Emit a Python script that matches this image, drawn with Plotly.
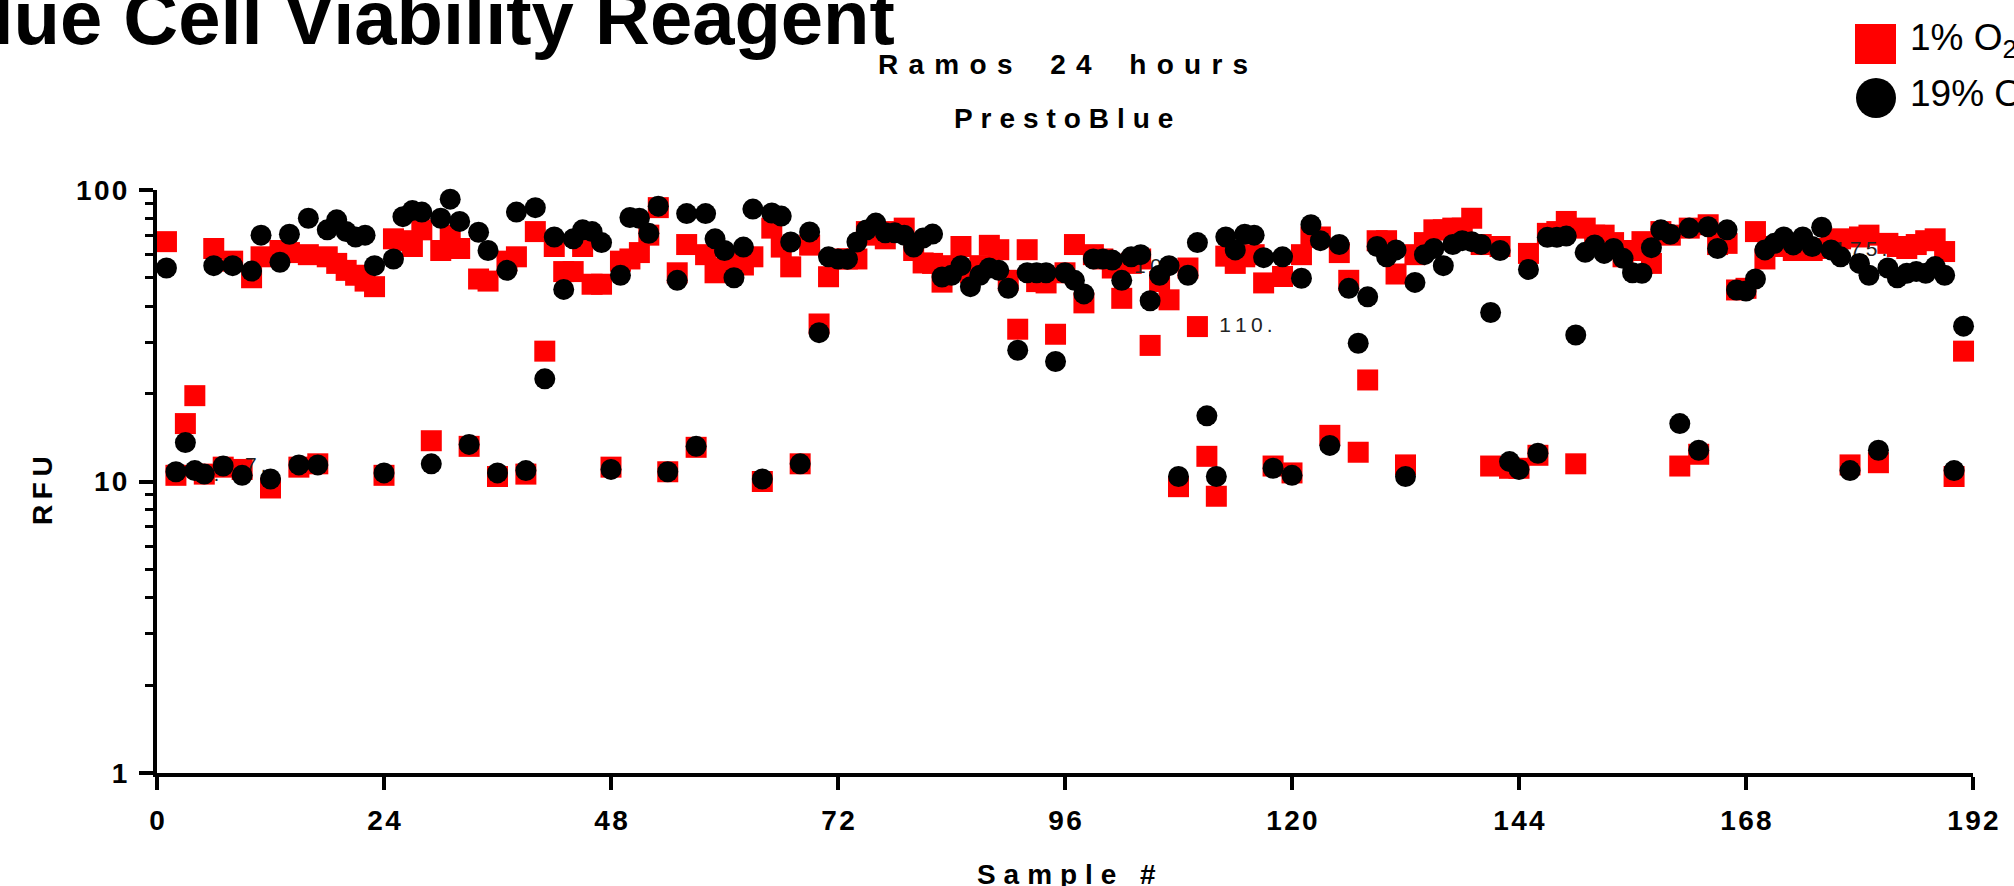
import numpy as np
import plotly.graph_objects as go

W, H = 2014, 886
ML, MR, MT, MB = 157, 41, 190, 113
PW, PH = W - ML - MR, H - MT - MB

samples = list(range(1, 192))

red_1pct = [
    66.5, 10.5, 15.8, 19.7, 10.6, 63, 11.2, 57, 11.0, 50,
    59, 9.5, 62, 61, 11.2, 60, 11.5, 59, 56, 53,
    51, 48.7, 46.6, 10.5, 68, 67, 64, 73, 13.8, 62,
    70, 63, 13.2, 49.5, 48.7, 10.4, 57, 59, 10.6, 72,
    28, 64, 52.5, 52.5, 64, 47.5, 47.5, 11.2, 57, 58,
    61, 70, 87, 10.8, 52, 65, 13.1, 60, 52, 54,
    58, 55.3, 59, 10.0, 74, 63.7, 54.5, 11.5, 64.7, 34.7,
    50.4, 58, 58, 58, 72, 70, 68, 72, 74, 62,
    56.2, 56, 48.3, 55, 64, 52, 55, 64.6, 62.4, 49,
    33.3, 62.4, 48.5, 48, 32, 52, 65, 41, 60, 58,
    54, 42.5, 56, 58, 29.3, 48.5, 42, 9.6, 54, 34,
    12.2, 8.9, 59.3, 56, 59, 60, 48, 11.3, 50.5, 10.7,
    60, 69, 69, 14.4, 61, 49, 12.6, 22.3, 67, 67,
    51.5, 11.4, 60, 66, 73, 73, 74, 74, 80, 65,
    11.3, 64, 11.1, 11.1, 60.6, 12.3, 71, 72, 78, 11.5,
    74, 70, 70, 66, 59, 62, 66.5, 56, 72, 70,
    11.3, 74, 12.4, 76, 65, 65.6, 45.4, 46, 72, 58,
    64, 64.8, 62, 63, 62, 63, 66, 68, 11.4, 69,
    70, 11.6, 65.6, 64, 63, 65, 67, 68, 61.5, 10.4,
    28,
]

black_19pct = [
    54, 10.8, 13.6, 10.9, 10.6, 55, 11.3, 55, 10.5, 52.7,
    70, 10.2, 56.5, 70.5, 11.4, 80, 11.4, 73, 79, 72,
    69, 70, 55, 10.7, 58, 81, 85, 84, 11.5, 80,
    93, 78, 13.4, 71.6, 62, 10.7, 53, 84, 10.9, 87,
    22.5, 69, 45.6, 68, 73, 72, 66, 11, 51, 80.5,
    80, 71, 88, 10.8, 49, 83, 13.2, 83, 68, 62,
    50, 63.7, 86, 10.2, 83.4, 81.4, 66.3, 11.5, 71.8, 32.4,
    59, 58, 57.9, 66.3, 72.9, 77, 71.3, 71.3, 70, 63.7,
    68.4, 70.6, 50.3, 51, 55, 46.6, 51, 54, 53, 46,
    28.2, 52, 52, 52, 25.8, 52, 49, 44, 58, 58,
    57.5, 49, 59, 60, 41.7, 51, 55, 10.4, 51, 66,
    16.8, 10.4, 69, 62.3, 70.5, 70, 58.6, 11.1, 59, 10.5,
    49.8, 76, 67, 13.3, 65, 46, 29.8, 43, 64, 59,
    62.3, 10.4, 48.2, 60, 63, 55, 65, 67, 66.5, 65,
    38, 62, 11.7, 11, 53.4, 12.5, 68.8, 68.8, 69.5, 31.8,
    61.1, 64.8, 60.6, 63, 58.3, 52, 51.8, 63.4, 73, 70.5,
    15.8, 74, 12.8, 74.8, 63, 73, 45.4, 45, 49.5, 62.3,
    65.6, 69, 64.8, 69, 64, 74.5, 62.3, 59, 10.9, 56,
    51, 12.8, 54, 50, 51.8, 52.5, 51.8, 54.6, 51, 10.9,
    34.1,
]

labelled_samples = [2, 7, 101, 110, 175]

x_ticks = [0, 24, 48, 72, 96, 120, 144, 168, 192]
y_ticks = [1, 10, 100]
y_minor = [2, 3, 4, 5, 6, 7, 8, 9, 20, 30, 40, 50, 60, 70, 80, 90]

THIN, HAIR, EN = "\u2009", "\u200a", "\u2002"


def spaced(s, gap=THIN, word=None):
    """Letter-spaced text (Prism style)."""
    if word is None:
        word = gap + " " + gap
    words = s.split(" ")
    return word.join(gap.join(list(w)) for w in words)


def px_x(px):
    return (px - ML) / PW


def px_y(py):
    return (H - MB - py) / PH


FONT = "Liberation Sans, Arial, sans-serif"

fig = go.Figure()

fig.add_trace(go.Scatter(
    x=samples, y=red_1pct, mode="markers", name="1% O2",
    marker=dict(symbol="square", size=21, color="#ff0000", line=dict(width=0)),
    cliponaxis=False, showlegend=False,
))

lab_x = [s + 2.3 for s in labelled_samples]
lab_y = [red_1pct[s - 1] for s in labelled_samples]
lab_t = [spaced(f"{s}.") for s in labelled_samples]
fig.add_trace(go.Scatter(
    x=lab_x, y=lab_y, mode="text", text=lab_t, textposition="middle right",
    textfont=dict(family=FONT, size=21, color="#222222"),
    showlegend=False, hoverinfo="skip",
))

fig.add_trace(go.Scatter(
    x=samples, y=black_19pct, mode="markers", name="19% O2",
    marker=dict(symbol="circle", size=21, color="#000000", line=dict(width=0)),
    cliponaxis=False, showlegend=False,
))

axis_common = dict(
    showline=True, linewidth=4, linecolor="black", mirror=False,
    ticks="outside", tickwidth=4, tickcolor="black",
    showgrid=False, zeroline=False,
    tickfont=dict(family=FONT, size=28, color="black", weight="bold"),
)

fig.update_xaxes(
    range=[0, 192], tickmode="array", tickvals=x_ticks,
    ticktext=[spaced(str(v), HAIR) for v in x_ticks], ticklen=13,
    ticklabelstandoff=6, **axis_common,
)
fig.update_yaxes(
    type="log", range=[0, 2], tickmode="array", tickvals=y_ticks,
    ticktext=[spaced(str(v), HAIR) for v in y_ticks], ticklen=14,
    ticklabelstandoff=6,
    minor=dict(tickmode="array", tickvals=y_minor, ticks="outside",
               ticklen=8, tickwidth=3, tickcolor="black", showgrid=False),
    **axis_common,
)

annos = []
# big (cropped) page title
annos.append(dict(
    text="PrestoBlue Cell Viability Reagent", xref="paper", yref="paper",
    x=px_x(897), y=px_y(17), xanchor="right", yanchor="middle", showarrow=False,
    font=dict(family=FONT, size=76, color="black", weight="bold"),
))
# chart titles
annos.append(dict(
    text=spaced("Ramos 24 hours", THIN + HAIR + HAIR, THIN + HAIR + EN + " " + THIN + HAIR),
    xref="paper", yref="paper",
    x=px_x(1063), y=px_y(64), xanchor="center", yanchor="middle", showarrow=False,
    font=dict(family=FONT, size=28, color="black", weight="bold"),
))
annos.append(dict(
    text=spaced("PrestoBlue", THIN + HAIR), xref="paper", yref="paper",
    x=px_x(1063), y=px_y(119), xanchor="center", yanchor="middle", showarrow=False,
    font=dict(family=FONT, size=28, color="black", weight="bold"),
))
# axis titles
annos.append(dict(
    text=spaced("Sample #", THIN + HAIR), xref="paper", yref="paper",
    x=px_x(1066), y=px_y(874), xanchor="center", yanchor="middle", showarrow=False,
    font=dict(family=FONT, size=28, color="black", weight="bold"),
))
annos.append(dict(
    text=spaced("RFU"), xref="paper", yref="paper", textangle=-90,
    x=px_x(42), y=px_y(490), xanchor="center", yanchor="middle", showarrow=False,
    font=dict(family=FONT, size=28, color="black", weight="bold"),
))
# legend texts
annos.append(dict(
    text="1% O<sub>2</sub>", xref="paper", yref="paper",
    x=px_x(1908), y=px_y(40), xanchor="left", yanchor="middle", showarrow=False,
    font=dict(family=FONT, size=37, color="black"),
))
annos.append(dict(
    text="19% O<sub>2</sub>", xref="paper", yref="paper",
    x=px_x(1908), y=px_y(96), xanchor="left", yanchor="middle", showarrow=False,
    font=dict(family=FONT, size=37, color="black"),
))

shapes = [
    dict(type="rect", xref="paper", yref="paper",
         x0=px_x(1855), x1=px_x(1896), y0=px_y(64), y1=px_y(24),
         fillcolor="#ff0000", line=dict(width=0)),
    dict(type="circle", xref="paper", yref="paper",
         x0=px_x(1856), x1=px_x(1896), y0=px_y(118), y1=px_y(78),
         fillcolor="#000000", line=dict(width=0)),
]

fig.update_layout(
    width=W, height=H, autosize=False,
    margin=dict(l=ML, r=MR, t=MT, b=MB, pad=0),
    paper_bgcolor="white", plot_bgcolor="white",
    showlegend=False, annotations=annos, shapes=shapes,
)

fig.write_html("out.html", include_plotlyjs=True, config={"displayModeBar": False})
